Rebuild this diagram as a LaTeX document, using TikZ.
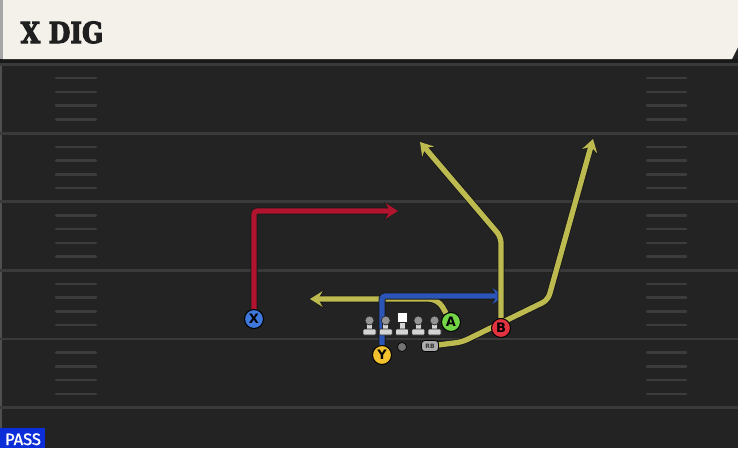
\documentclass[tikz,border=0pt]{standalone}
\usepackage{fontspec}
\usepackage{graphicx}
\usetikzlibrary{arrows.meta}
\setmainfont{DejaVu Sans}
\newfontfamily\titlefont[FakeBold=4]{DejaVu Serif Bold}
\newfontfamily\passfont[FakeBold=1.5]{Fira Sans}
\definecolor{field}{HTML}{232323}
\definecolor{yardc}{HTML}{3A3A3A}
\definecolor{hashc}{HTML}{3C3C3C}
\definecolor{headerc}{HTML}{F4F1EA}
\definecolor{redr}{HTML}{B0142F}
\definecolor{yelr}{HTML}{BDBB50}
\definecolor{blur}{HTML}{2C55B8}
\definecolor{xcol}{HTML}{3D78DA}
\definecolor{ycol}{HTML}{F2C22E}
\definecolor{acol}{HTML}{72D545}
\definecolor{bcol}{HTML}{E0323F}
\definecolor{passc}{HTML}{0C2ED8}
\definecolor{manc}{HTML}{D4D4D4}
\definecolor{manh}{HTML}{949494}
\pgfdeclarelayer{fieldlayer}
\pgfdeclarelayer{routelayer}
\pgfsetlayers{fieldlayer,routelayer,main}
\tikzset{
  yard/.style={draw=yardc, line width=2.8pt},
  hashm/.style={draw=hashc, line width=2.5pt, line cap=round},
  route/.style={line width=5.3pt, draw=#1, line join=round,
    -{Stealth[length=12.5pt,width=15.5pt,inset=4.5pt]},
    preaction={draw=black!90, line width=7pt,
      -{Stealth[length=14pt,width=17.5pt,inset=5pt]}}},
  player/.style={circle, minimum size=19pt, inner sep=0pt, draw=black, line width=1pt,
    fill=#1, font=\bfseries\fontsize{13}{13}\selectfont, text=black},
  manbody/.style={fill=manc, draw=black!85, line width=0.7pt},
  manhead/.style={fill=manh, draw=black!85, line width=0.7pt},
}
\begin{document}
\begin{tikzpicture}[x=1pt,y=-1pt]
\useasboundingbox (0,0) rectangle (738,448);
\begin{pgfonlayer}{fieldlayer}
\fill[field] (0,0) rectangle (738,448);
\fill[black!90] (0,59) rectangle (738,63);
\fill[white!20!field] (0,63) rectangle (2,448);
\foreach \i in {0,...,5} {
  \pgfmathsetmacro\yy{64.5+68.6*\i}
  \draw[yard] (0,\yy) -- (738,\yy);
}
\foreach \i in {0,...,4} {
  \foreach \j in {1,...,4} {
    \pgfmathsetmacro\hy{64.5+68.6*\i+13.72*\j}
    \draw[hashm] (56,\hy) -- (96,\hy);
    \draw[hashm] (647,\hy) -- (686,\hy);
  }
}
% header
\fill[headerc] (2,0) -- (738,0) -- (738,47) -- (732,59) -- (2,59) -- cycle;
\fill[black!35] (0,0) rectangle (2.5,59);
\end{pgfonlayer}
\node[anchor=base west, inner sep=0pt, text=black!88, font=\titlefont\fontsize{29}{29}\selectfont] (title) at (20.5,43) {\scalebox{0.86}[1]{X DIG}};
% pass label
\node[anchor=south west, fill=passc, minimum width=45pt, minimum height=20pt, inner sep=0pt] (passbox) at (0,448) {};
\node[anchor=base, inner sep=0pt, text=white, font=\passfont\fontsize{16.5}{16.5}\selectfont] (pass) at (23,445) {PASS};
% players
\node[player=xcol] (X) at (254,319) {X};
\node[player=ycol] (Y) at (382,355) {Y};
\node[player=acol] (A) at (451,322) {A};
\node[player=bcol] (B) at (501,328) {B};
\node[rounded corners=3.5pt, fill=black!33, draw=black, line width=0.7pt, minimum width=17pt, minimum height=11pt, inner sep=0pt, text=black!80, font=\bfseries\fontsize{6}{6}\selectfont] (RB) at (430,346) {RB};
\node[circle, fill=black!55, draw=black, line width=0.6pt, minimum size=9pt, inner sep=0pt] (QB) at (402,347) {};
% linemen
\foreach \lx [count=\k] in {369.5,385.75,418.25,434.5} {
  \coordinate (L\k) at (\lx,326);
  \path[manbody] (\lx-3,321) rectangle (\lx+3,330);
  \path[manbody, rounded corners=1pt] (\lx-6.5,329) rectangle (\lx+6.5,335);
  \path[manhead] (\lx,320.5) circle (4.5);
}
\coordinate (C) at (402,326);
\path[manbody] (399,321) rectangle (405,330);
\path[manbody, rounded corners=1pt] (395.5,329) rectangle (408.5,335);
\path[fill=white, draw=black!85, line width=0.7pt] (397,312.5) rectangle (407,322);
% route points
\coordinate (xturn) at (254,211);
\coordinate (xend) at (398,211);
\coordinate (yturn) at (382,296);
\coordinate (yend) at (505,296);
\coordinate (aturn) at (438,299);
\coordinate (aend) at (310,299);
\coordinate (bturn) at (501,237);
\coordinate (bend) at (420,142);
\coordinate (rb1) at (462,342);
\coordinate (rb2) at (548,300);
\coordinate (rbend) at (593,139);
\begin{pgfonlayer}{routelayer}
\draw[route=redr, rounded corners=3pt] (X) -- (xturn) -- (xend);
\draw[route=yelr, rounded corners=9pt] (A) -- (aturn) -- (aend);
\draw[route=blur, rounded corners=3pt] (Y) -- (yturn) -- (yend);
\draw[route=yelr, rounded corners=6pt] (B) -- (bturn) -- (bend);
\draw[route=yelr, rounded corners=6pt] (RB) -- (rb1) -- (rb2) -- (rbend);
\end{pgfonlayer}
\end{tikzpicture}
\end{document}
